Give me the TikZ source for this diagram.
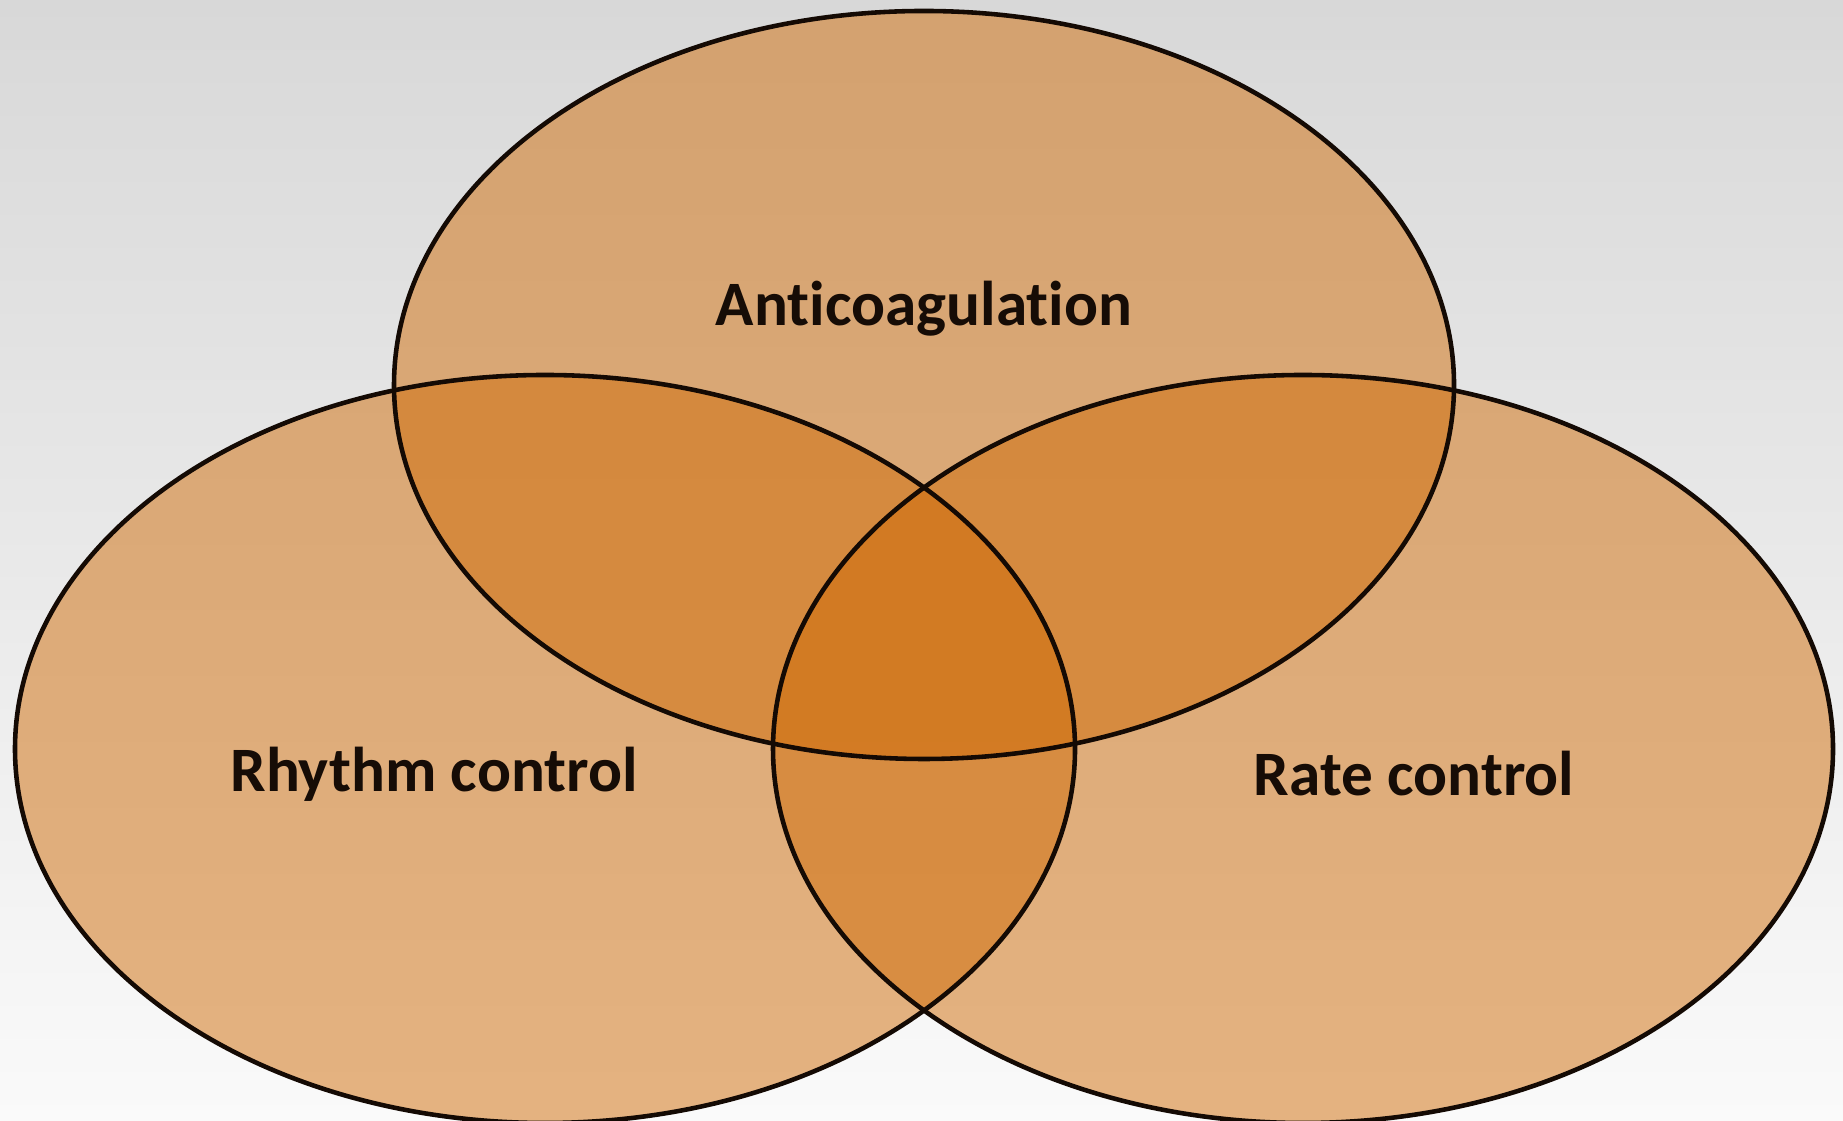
\documentclass[tikz,border=0pt]{standalone}
\usepackage{fontspec}
\setmainfont[Ligatures=NoCommon]{Carlito}
\usetikzlibrary{shapes.geometric}
\definecolor{bgtop}{RGB}{216,216,216}
\definecolor{bgbot}{RGB}{250,250,250}
\definecolor{setfill}{RGB}{208,108,8}
\definecolor{setline}{RGB}{20,10,4}
\definecolor{labelcol}{RGB}{22,12,6}
\tikzset{
  setshape/.style={ellipse, minimum width=10.6cm, minimum height=7.48cm, inner sep=0pt},
  setfillstyle/.style={setshape, fill=setfill, fill opacity=0.5},
  setoutline/.style={setshape, draw=setline, line width=1.3pt},
  setlabel/.style={font=\fontsize{18}{21}\selectfont\bfseries, text=labelcol}
}
\begin{document}
\begin{tikzpicture}
  % canvas with a soft vertical grey-to-white gradient
  \shade[top color=bgtop, bottom color=bgbot] (0,0) rectangle (18.43,11.21);
  \useasboundingbox (0,0) rectangle (18.43,11.21);
  % translucent fills of the three sets
  \node[setfillstyle] (antiF) at (9.24,7.36) {};
  \node[setfillstyle] (rhythmF) at (5.45,3.72) {};
  \node[setfillstyle] (rateF) at (13.03,3.72) {};
  % outlines drawn over all fills
  \node[setoutline] (anti) at (antiF) {};
  \node[setoutline] (rhythm) at (rhythmF) {};
  \node[setoutline] (rate) at (rateF) {};
  % set labels
  \node[setlabel] (antiL) at (9.24,8.12) {Anticoagulation};
  \node[setlabel] (rhythmL) at (4.34,3.47) {Rhythm control};
  \node[setlabel] (rateL) at (14.14,3.47) {Rate control};
\end{tikzpicture}
\end{document}
